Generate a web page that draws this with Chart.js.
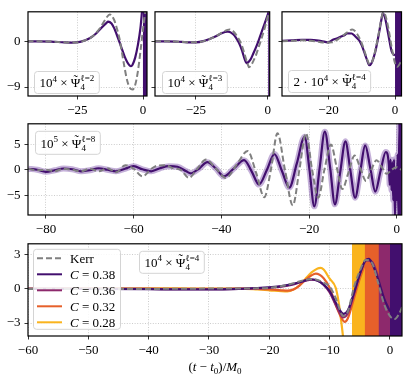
<!DOCTYPE html>
<html>
<head>
<meta charset="utf-8">
<script src="https://cdn.jsdelivr.net/npm/chart.js@4.4.0/dist/chart.umd.min.js"></script>
<style>
html, body { margin: 0; padding: 0; background: #fff; }
#wrap { position: relative; width: 403px; height: 378px; overflow: hidden; background: #fff; }
canvas { position: absolute; }
</style>
</head>
<body>
<div id="wrap">
<canvas id="p1"></canvas>
<canvas id="p2"></canvas>
<canvas id="p3"></canvas>
<canvas id="p4"></canvas>
<canvas id="p5"></canvas>
</div>
<script>
// ---- data ----
// top left: l=2 (x 1e4)
var tSimL2 = [-44, -40, -35, -30, -27, -24, -22, -20, -18, -16, -14, -13.3, -12, -11, -10, -9, -8, -7, -6, -5, -4.6, -4, -3, -2, -1, -0.3];
var simL2 = [0, 0, -0.05, -0.2, -0.25, -0.1, 0.2, 0.7, 1.5, 2.6, 3.6, 3.9, 3.5, 2.6, 1.3, -0.1, -1.6, -3.0, -4.1, -4.8, -4.9, -4.6, -3.2, -0.8, 2.6, 6.5];
var tKerrL2 = [-44, -40, -35, -30, -27, -24, -22, -20, -18, -16, -14, -12.7, -11, -10, -9, -8, -7, -6, -5, -4, -3, -2, -1, 0, 1, 1.5];
var kerrL2 = [0, 0, -0.05, -0.2, -0.25, -0.1, 0.2, 0.7, 1.6, 2.9, 4.6, 5.3, 4.2, 2.6, 0.6, -2.3, -5.3, -7.8, -9.2, -9.5, -8.6, -6.0, -2.0, 2.5, 6.5, 8];
var blowL2 = [-0.1, 1.5];

// top middle: l=3 (x 1e4)
var tSimL3 = [-39.2, -35, -30, -27, -25, -22, -20, -18, -16, -14, -13.8, -12, -11, -10, -9, -8, -7.4, -6, -5, -4, -3, -2, -1, 0, 0.7];
var simL3 = [0, 0, -0.1, -0.2, -0.2, 0.1, 0.5, 1.0, 1.6, 1.9, 1.9, 1.4, 0.7, -0.3, -1.7, -3.5, -4.3, -3.6, -2.4, -1.1, 0.4, 2.0, 3.6, 5.2, 6.5];
var tKerrL3 = [-39.2, -35, -30, -27, -25, -22, -20, -18, -16, -14, -13.2, -12, -11, -10, -9, -8, -7, -6.5, -6, -5, -4, -3, -2, -1, 0, 0.7];
var kerrL3 = [0, 0, -0.1, -0.2, -0.2, 0.1, 0.5, 1.0, 1.7, 2.25, 2.35, 2.0, 1.3, 0.4, -0.8, -2.6, -4.4, -5.1, -4.9, -3.9, -2.6, -0.9, 0.8, 2.7, 4.8, 6.2];
var blowL3 = [0.15, 0.7];

// top right: l=4 (x 2e4)
var tSimL4 = [-34, -31, -28, -25.4, -23, -21, -20, -18.7, -17, -16.4, -15, -14.4, -13, -12, -11, -10.6, -10, -9, -8, -7.7, -7, -6, -5, -4, -3.7, -3, -2, -1, 0];
var simL4 = [0.1, 0.2, 0.3, 0.3, 0.15, -0.1, -0.2, 0.3, 0.7, 0.9, 1.3, 1.6, 1.55, 1.0, 0.35, 0, -0.8, -2.6, -4.4, -4.7, -4.2, -2.2, 1.0, 4.6, 5.5, 4.6, 1.3, -2.0, -2.8];
var tKerrL4 = [-34, -31, -28, -25.4, -23, -21, -19, -17, -15.3, -13.9, -12.9, -12, -11, -10, -9, -8, -7.7, -7, -6, -5, -4, -3.5, -3, -2, -1, 0, 0.7, 1.95];
var kerrL4 = [0, 0.1, 0.2, 0.1, -0.1, -0.25, -0.2, 0.5, 1.3, 2.0, 2.35, 2.0, 1.0, -0.4, -2.3, -4.2, -4.5, -4.2, -2.0, 1.2, 4.8, 5.7, 5.3, 2.6, -1.2, -4.3, -5.0, -3.8];
var blowL4 = [0, 1.95];

// middle: l=8 (x 1e5)
var tSim8 = [-84, -82, -80, -78, -76, -74, -72, -70, -68, -66, -64, -62, -60, -58, -56, -54, -52, -50, -48, -47, -45, -43.2, -41.3, -39.4, -37.1, -34.8, -33.1, -31.4, -29.6, -27.9, -26.2, -24.5, -22.8, -21, -19.9, -18.8, -17.6, -16.4, -15.2, -14.1, -12.9, -11.7, -10.6, -9.5, -8.3, -7.2, -6, -4.9, -3.7, -2.5, -1.8, -1.6, -1.4, -1.2, -1.0, -0.8, -0.6, -0.4, -0.2, 0, 0.2, 0.4, 0.6, 0.8, 1.0];
var sim8 = [0.2, 0, -0.4, -0.1, 0.25, 0.1, -0.3, -0.1, 0.3, 0, -0.3, 0.2, 0.7, 0.1, -0.3, 0.3, 0.7, 0.6, -0.3, -0.7, 0.3, 1.5, 0.3, -1.3, 0.3, 1.9, -0.3, -2.9, 0, 3.1, -0.2, -3.5, 1.2, 6.5, 0, -7.2, 0.2, 7.5, 0.5, -6.8, -0.5, 5.6, 0, -5.5, -0.2, 4.8, 0.2, -4.3, -0.3, 3.5, 1.0, -3, 2, -4, 1.5, -6, 2, -9.5, 0, -6, 3, -9.5, 9.5, -9.5, 9.5];
var tKerr8 = [-84, -82, -80, -78, -76, -74, -72, -70, -68, -66, -64, -61.9, -60, -58, -55.8, -54.6, -52.7, -51, -49.3, -47.4, -45.5, -43.5, -41.2, -39, -36.5, -34, -32.1, -30.2, -28.7, -27.2, -25.5, -23.7, -22.2, -20.7, -19.3, -17.9, -16.5, -15, -13.7, -12.4, -11, -9.6, -8.3, -7, -5.8, -4.6, -3.4, -2.3, -1.2, 0, 1.1];
var kerr8 = [0.2, -0.1, 0, -0.3, 0.2, 0, -0.3, 0.2, -0.3, 0.3, -0.5, 0.9, 0.2, -1.3, 0.3, 0.8, 0.9, 0.3, 0, -1.6, 0.2, 2.0, 0.2, -1.6, 1.0, 3.7, -0.5, -5.4, 0, 7.2, 0, -7.0, 0, 7.2, 0, -5.5, 0, 5.0, 0.5, -3.8, -0.5, 2.8, 0.3, -2.2, 0, 1.9, 0.5, -0.8, 0, 0.5, 0];

// bottom: l=4 (x 1e4), four compactness values
var cLabels = ['0.38', '0.36', '0.32', '0.28'];
var tKerrC = [-60, -50, -40, -35, -30, -25, -22, -20, -18, -16, -14, -12.7, -11, -10, -9, -8, -7.8, -7, -6, -5, -4, -3, -2, -1, 0, 0.8, 1.5, 2];
var kerrC = [0, 0, 0, 0.02, 0.03, 0.04, 0.05, 0.1, 0.25, 0.5, 0.8, 0.87, 0.55, 0.2, -0.8, -2.25, -2.37, -2.0, 0.1, 1.6, 2.55, 2.3, 0.6, -1.3, -2.4, -2.65, -2.2, -1.6];
var tC38 = [-60, -50, -40, -35, -30, -25, -22, -20, -18, -16, -14, -13.3, -12, -11, -10, -9, -8, -7.7, -7, -6, -5, -4, -3.5, -3, -2, -1, 0];
var c38 = [0, 0, -0.02, -0.05, -0.05, 0, 0.08, 0.15, 0.25, 0.45, 0.75, 0.85, 0.72, 0.38, -0.2, -1.2, -2.1, -2.2, -1.9, -0.4, 1.3, 2.55, 2.65, 2.3, 0.9, -0.8, -2.0];
var tC36 = [-60, -50, -40, -35, -30, -25, -22, -20, -18, -16, -14, -13, -12, -11, -10, -9, -8, -7.7, -7, -6, -5, -4, -3, -1.9];
var c36 = [0, 0, 0, -0.02, -0.03, 0, 0.05, 0.1, 0.2, 0.4, 0.72, 0.82, 0.75, 0.38, -0.3, -1.4, -2.4, -2.5, -2.15, -0.5, 1.3, 2.5, 2.4, 1.0];
var tC32 = [-60, -50, -40, -35, -30, -25, -22, -20, -18, -17, -16, -15, -14, -13, -12.3, -11, -10, -9, -8, -7.5, -7, -6, -5, -4.2];
var c32 = [0, 0, 0, 0, 0, 0.02, 0, -0.05, -0.12, -0.15, -0.05, 0.3, 0.8, 1.2, 1.35, 0.95, 0.1, -1.4, -2.6, -2.9, -2.6, -0.9, 0.9, 2.1];
var tC28 = [-60, -50, -40, -35, -30, -25, -22, -20, -18, -17, -16, -15, -14, -13, -12, -11.5, -11, -10, -9, -8.5, -8, -7.5];
var c28 = [0, 0.02, 0.05, 0.05, 0.02, 0.02, -0.05, -0.12, -0.2, -0.22, -0.05, 0.3, 0.9, 1.45, 1.8, 1.85, 1.7, 0.9, 0.1, -1.2, -3.2, -5.5];
var blowC = [-6.3, -4.2, -1.9, 0]; // where each run breaks down (0.28, 0.32, 0.36, 0.38)

// ticks
var xTicksL23 = [-25, 0];
var xTicksL4 = [-20, 0];
var yTicksTop = [0, -9];
var xTicksMid = [-80, -60, -40, -20, 0];
var yTicksMid = [5, 0, -5];
var xTicksBot = [-60, -50, -40, -30, -20, -10, 0];
var yTicksBot = [3, 0, -3];

// ---- styling ----
var SERIF = "'Liberation Serif', 'DejaVu Serif', serif";
var GREY = 'rgb(128,128,128)';
var COLS = ['rgb(66,15,110)', 'rgb(141,41,108)', 'rgb(230,96,42)', 'rgb(250,180,30)'];

function fmt(v) {
	return v < 0 ? '\u2212' + Math.abs(v) : String(v);
}

function pts(ts, vs) {
	return ts.map(function (t, i) { return {x: t, y: vs[i]}; });
}

function curve(ts, vs, color, w, order) {
	return {data: pts(ts, vs), borderColor: color, borderWidth: w, fill: false, order: order,
		cubicInterpolationMode: 'monotone', pointRadius: 0, borderJoinStyle: 'round'};
}

function dashed(ts, vs) {
	var d = curve(ts, vs, GREY, 2, 0);
	d.borderDash = [6, 3];
	d.label = 'Kerr';
	return d;
}

function block(t0, t1, color, order) {
	return {data: [{x: t0, y: 50}, {x: t1, y: 50}], borderColor: 'rgba(0,0,0,0)', borderWidth: 0,
		backgroundColor: color, fill: 'start', order: order, pointRadius: 0, tension: 0};
}

// small math-ish text: runs of {t, s, i, dy, stack, acc}
function mathText(ctx, x, y, runs, align, dry) {
	var items = [], cx = 0, prevStart = 0, prevW = 0;
	runs.forEach(function (r) {
		var size = r.s || 13;
		ctx.font = (r.i ? 'italic ' : '') + size + 'px ' + SERIF;
		var w = ctx.measureText(r.t).width;
		if (r.acc) {
			items.push({r: r, x: prevStart + prevW / 2, font: ctx.font, center: true});
			return;
		}
		var start = r.stack ? prevStart : cx;
		items.push({r: r, x: start, font: ctx.font});
		cx = r.stack ? Math.max(cx, start + w) : start + w;
		prevStart = start;
		prevW = w;
	});
	if (dry) return cx;
	var x0 = align === 'center' ? x - cx / 2 : x;
	items.forEach(function (it) {
		ctx.font = it.font;
		ctx.textAlign = it.center ? 'center' : 'left';
		ctx.textBaseline = 'alphabetic';
		ctx.fillStyle = '#000';
		ctx.fillText(it.r.t, x0 + it.x, y + (it.r.dy || 0));
	});
	return cx;
}

function psiRuns(pre, pow, ell) {
	var r = [];
	if (pre) r.push({t: pre});
	r.push({t: '10'}, {t: pow, s: 9, dy: -5.5}, {t: ' \u00d7 '}, {t: '\u03a8'},
		{t: '\u02dc', acc: true, dy: -3.5}, {t: '4', s: 9, dy: 3}, {t: '\u2113=' + ell, s: 9, dy: -6, stack: true});
	return r;
}

function roundBox(ctx, x, y, w, h) {
	ctx.beginPath();
	ctx.roundRect(x, y, w, h, 3);
	ctx.fillStyle = 'rgba(255,255,255,0.85)';
	ctx.fill();
	ctx.strokeStyle = 'rgb(212,212,212)';
	ctx.lineWidth = 1;
	ctx.stroke();
}

function note(ctx, x, y, h, runs) {
	var w = mathText(ctx, 0, 0, runs, 'left', true);
	roundBox(ctx, x + 0.5, y + 0.5, w + 10, h);
	mathText(ctx, x + 5.5, y + h - 6, runs, 'left');
}

function legendBox(ctx, chart, x, y) {
	var items = chart.data.datasets.filter(function (d) { return d.label; });
	roundBox(ctx, x + 0.5, y + 0.5, 87, 80);
	items.forEach(function (d, i) {
		var cy = y + 9.5 + i * 16;
		ctx.save();
		ctx.strokeStyle = d.borderColor;
		ctx.lineWidth = 2;
		ctx.setLineDash(d.borderDash || []);
		ctx.beginPath();
		ctx.moveTo(x + 4, cy);
		ctx.lineTo(x + 29, cy);
		ctx.stroke();
		ctx.restore();
		var runs = d.label === 'Kerr' ? [{t: 'Kerr'}] : [{t: 'C', i: 1}, {t: ' = ' + d.label.slice(2)}];
		mathText(ctx, x + 37, cy + 4.5, runs, 'left');
	});
}

function makePanel(id, box, area, xr, yr, xt, yt, yLab, datasets, deco) {
	var cv = document.getElementById(id);
	cv.width = box[2];
	cv.height = box[3];
	cv.style.left = box[0] + 'px';
	cv.style.top = box[1] + 'px';
	var tickFont = {family: SERIF, size: 13};
	var grid = {color: 'rgba(175,175,175,0.8)', lineWidth: 0.8, tickColor: '#000', tickLength: 3.5, tickWidth: 0.8};
	var border = {display: false, dash: [1, 1.6]};
	return new Chart(cv, {
		type: 'line',
		data: {datasets: datasets},
		options: {
			responsive: false, animation: false, devicePixelRatio: 1,
			layout: {padding: {left: 0, bottom: 0, top: area[1] - box[1], right: box[0] + box[2] - area[2]}},
			plugins: {legend: {display: false}, tooltip: {enabled: false}},
			elements: {point: {radius: 0}},
			scales: {
				x: {type: 'linear', min: xr[0], max: xr[1],
					afterBuildTicks: function (s) { s.ticks = xt.map(function (v) { return {value: v}; }); },
					afterFit: function (s) { s.height = box[1] + box[3] - area[3]; },
					ticks: {font: tickFont, color: '#000', padding: 3, maxRotation: 0, autoSkip: false, callback: fmt},
					grid: grid, border: border},
				y: {type: 'linear', min: yr[0], max: yr[1],
					afterBuildTicks: function (s) { s.ticks = yt.map(function (v) { return {value: v}; }); },
					afterFit: function (s) { s.width = area[0] - box[0]; },
					ticks: {font: tickFont, color: '#000', padding: 4, autoSkip: false,
						callback: yLab ? fmt : function () { return ''; }},
					grid: grid, border: border}
			}
		},
		plugins: [{
			id: 'deco',
			afterDatasetsDraw: function (chart) {
				var ctx = chart.ctx, a = chart.chartArea;
				ctx.save();
				if (deco) deco(ctx, a, chart);
				ctx.strokeStyle = '#000';
				ctx.lineWidth = 1.2;
				ctx.strokeRect(a.left, a.top, a.right - a.left, a.bottom - a.top);
				ctx.restore();
			}
		}]
	});
}

var topY = [-10.76, 5.82];

makePanel('p1', [0, 0, 152, 118], [28, 2, 147, 96], [-43.8, 1.5], topY, xTicksL23, yTicksTop, true, [
	dashed(tKerrL2, kerrL2),
	curve(tSimL2, simL2, COLS[0], 2.2, 1),
	block(blowL2[0], blowL2[1], COLS[0], 20)
], function (ctx, a) { note(ctx, a.left + 6, 71, 22, psiRuns('', '4', '2')); });

makePanel('p2', [128, 0, 146, 118], [155, 2, 270, 96], [-39.2, 0.7], topY, xTicksL23, yTicksTop, false, [
	dashed(tKerrL3, kerrL3),
	curve(tSimL3, simL3, COLS[0], 2.2, 1),
	block(blowL3[0], blowL3[1], COLS[0], 20)
], function (ctx, a) { note(ctx, a.left + 7, 71, 22, psiRuns('', '4', '3')); });

makePanel('p3', [254, 0, 149, 118], [282, 2, 401.5, 96], [-34, 1.95], topY, xTicksL4, yTicksTop, false, [
	dashed(tKerrL4, kerrL4),
	curve(tSimL4, simL4, COLS[0], 2.2, 1),
	block(blowL4[0], blowL4[1], COLS[0], 20)
], function (ctx, a) { note(ctx, a.left + 6, 70, 22, psiRuns('2 \u00b7 ', '4', '4')); });

makePanel('p4', [0, 112, 403, 125], [28, 120, 402, 215], [-84.1, 1.14], [-8.9, 9.05], xTicksMid, yTicksMid, true, [
	dashed(tKerr8, kerr8),
	curve(tSim8, sim8, COLS[0], 2.2, 1),
	curve(tSim8, sim8, 'rgba(110,60,160,0.4)', 6, 5)
], function (ctx, a) { note(ctx, a.left + 7, a.top + 7, 23, psiRuns('', '5', '8')); });

var dC38 = curve(tC38, c38, COLS[0], 2.2, 1); dC38.label = 'C=' + cLabels[0];
var dC36 = curve(tC36, c36, COLS[1], 2.2, 2); dC36.label = 'C=' + cLabels[1];
var dC32 = curve(tC32, c32, COLS[2], 2.2, 3); dC32.label = 'C=' + cLabels[2];
var dC28 = curve(tC28, c28, COLS[3], 2.2, 4); dC28.label = 'C=' + cLabels[3];

makePanel('p5', [0, 232, 403, 146], [28, 240, 402, 336], [-60, 1.99], [-4.14, 3.97], xTicksBot, yTicksBot, true, [
	dashed(tKerrC, kerrC), dC38, dC36, dC32, dC28,
	block(blowC[0], 2, COLS[3], 24),
	block(blowC[1], 2, COLS[2], 23),
	block(blowC[2], 2, COLS[1], 22),
	block(blowC[3], 2, COLS[0], 21)
], function (ctx, a, chart) {
	legendBox(ctx, chart, a.left + 5, a.top + 5);
	note(ctx, a.left + 111, a.top + 7, 22, psiRuns('', '4', '4'));
	mathText(ctx, 215, 139, [{t: '('}, {t: 't', i: 1}, {t: ' \u2212 '}, {t: 't', i: 1}, {t: '0', s: 9, dy: 3},
		{t: ')/'}, {t: 'M', i: 1}, {t: '0', s: 9, dy: 3}], 'center');
});
</script>
</body>
</html>
